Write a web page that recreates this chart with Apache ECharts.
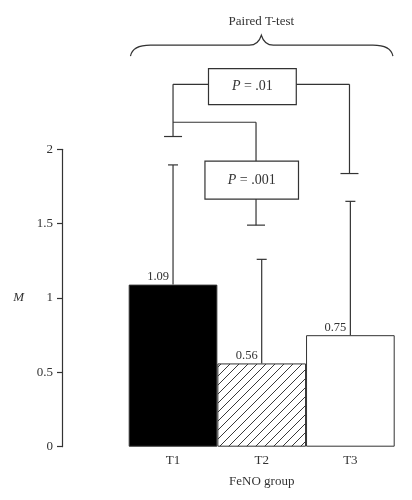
<!DOCTYPE html>
<html><head><meta charset="utf-8">
<script src="https://cdn.jsdelivr.net/npm/echarts@6/dist/echarts.min.js"></script>
<style>html,body{margin:0;padding:0;background:#fff}#c{width:412px;height:500px}</style>
</head><body><div id="c"></div>
<script>
// ---- data ----
const categories = ['T1', 'T2', 'T3'];
const means = [1.09, 0.56, 0.75];
const errorUpper = [1.895, 1.26, 1.65];
const yTicks = [0, 0.5, 1, 1.5, 2];
const pLabels = ['.01', '.001'];
const testTitle = 'Paired T-test';
const xAxisTitle = 'FeNO group';
const yAxisTitle = 'M';

// ---- styles ----
const INK = '#333';
const FONT = '"Liberation Serif", "DejaVu Serif", serif';

function hatch() {
  const s = 9, c = document.createElement('canvas');
  c.width = s; c.height = s;
  const g = c.getContext('2d');
  g.fillStyle = '#fff'; g.fillRect(0, 0, s, s);
  g.strokeStyle = '#222'; g.lineWidth = 0.9;
  g.beginPath();
  g.moveTo(0, s); g.lineTo(s, 0);
  g.moveTo(-s, s); g.lineTo(0, 0);
  g.moveTo(s, 2 * s); g.lineTo(2 * s, s);
  g.stroke();
  return c;
}
const fills = ['#000', { image: hatch(), repeat: 'repeat' }, '#fff'];

const chart = echarts.init(document.getElementById('c'), null, { renderer: 'canvas' });

const barData = means.map((v, i) => ({
  value: v,
  itemStyle: { color: fills[i], borderColor: INK, borderWidth: 1 }
}));
const errData = means.map((v, i) => [i, v, errorUpper[i]]);

function line(a, b, w) {
  return { type: 'line', shape: { x1: a[0], y1: a[1], x2: b[0], y2: b[1] },
    style: { stroke: INK, lineWidth: w || 1.2 } };
}

chart.setOption({
  animation: false,
  grid: { left: 128.7, right: 17.3, top: 149.3, bottom: 53.3 },
  xAxis: {
    type: 'category', data: categories,
    axisLine: { show: false }, axisTick: { show: false },
    axisLabel: { margin: 7, color: INK, fontFamily: FONT, fontSize: 13 },
    name: xAxisTitle, nameLocation: 'middle', nameGap: 28,
    nameTextStyle: { color: INK, fontFamily: FONT, fontSize: 13 }
  },
  yAxis: {
    type: 'value', min: 0, max: 2, interval: 0.5, offset: 66.7,
    splitLine: { show: false },
    axisLine: { show: true, lineStyle: { color: INK, width: 1.2 } },
    axisTick: { show: true, length: 5, lineStyle: { color: INK, width: 1.2 } },
    axisLabel: { margin: 9, color: INK, fontFamily: FONT, fontSize: 13,
      formatter: v => yTicks.indexOf(v) >= 0 ? String(v) : '' },
    name: yAxisTitle, nameLocation: 'middle', nameRotate: 0, nameGap: 38,
    nameTextStyle: { color: INK, fontFamily: FONT, fontSize: 13, fontStyle: 'italic' }
  },
  series: [
    {
      type: 'bar', data: barData, barWidth: '100%', barCategoryGap: 0,
      label: { show: true, position: 'top', align: 'right', offset: [-4, 1], distance: 2,
        color: INK, fontFamily: FONT, fontSize: 12.5, formatter: p => p.value.toFixed(2) },
      z: 2
    },
    {
      type: 'custom', data: errData, clip: false, z: 3,
      renderItem: function (params, api) {
        const x = api.value(0);
        const lo = api.coord([x, api.value(1)]);
        const hi = api.coord([x, api.value(2)]);
        const cw = 5;
        return { type: 'group', children: [
          line(lo, hi),
          line([hi[0] - cw, hi[1]], [hi[0] + cw, hi[1]])
        ] };
      }
    },
    {
      type: 'custom', data: [[0]], clip: false, z: 4,
      renderItem: function (params, api) {
        const base = api.coord([0, 0]);
        const bw = api.size([1, 0])[0];
        const P = (idx, val) => [base[0] + idx * bw, api.coord([0, val])[1]];
        const cap = 9;
        const kids = [];
        // brace
        const L = P(-0.48, 2.626), R = P(2.48, 2.626), C = P(0.996, 2.767);
        const yf = P(0, 2.70)[1];
        const d = 'M' + L[0] + ' ' + L[1] +
          ' Q' + (L[0] + 2) + ' ' + yf + ' ' + (L[0] + 20) + ' ' + yf +
          ' L' + (C[0] - 12) + ' ' + yf +
          ' Q' + (C[0] - 3) + ' ' + yf + ' ' + C[0] + ' ' + C[1] +
          ' Q' + (C[0] + 3) + ' ' + yf + ' ' + (C[0] + 12) + ' ' + yf +
          ' L' + (R[0] - 20) + ' ' + yf +
          ' Q' + (R[0] - 2) + ' ' + yf + ' ' + R[0] + ' ' + R[1];
        kids.push({ type: 'path', shape: { pathData: d }, style: { stroke: INK, fill: null, lineWidth: 1.2 } });
        const tp = P(0.996, 2.856);
        kids.push({ type: 'text', x: tp[0], y: tp[1], style: { text: testTitle, align: 'center', verticalAlign: 'middle',
          fill: INK, font: '13px ' + FONT } });
        // comparison T1 vs T3
        const yTop = 2.437;
        const b1a = P(0.40, 2.543), b1b = P(1.39, 2.301);
        kids.push({ type: 'rect', shape: { x: b1a[0], y: b1a[1], width: b1b[0] - b1a[0], height: b1b[1] - b1a[1] },
          style: { stroke: INK, fill: '#fff', lineWidth: 1.2 } });
        const c1 = P(0.895, (2.543 + 2.301) / 2);
        kids.push({ type: 'text', x: c1[0], y: c1[1], style: { text: '{i|P} = ' + pLabels[0], align: 'center', verticalAlign: 'middle',
          fill: INK, font: '14px ' + FONT, rich: { i: { fontStyle: 'italic', fontFamily: FONT, fontSize: 14, fill: INK } } } });
        const t1Top = P(0, yTop), t1Cap = P(0, 2.086);
        kids.push(line(t1Top, P(0.40, yTop)));
        kids.push(line(t1Top, t1Cap));
        kids.push(line([t1Cap[0] - cap, t1Cap[1]], [t1Cap[0] + cap, t1Cap[1]]));
        const t3Top = P(1.99, yTop), t3Cap = P(1.99, 1.837);
        kids.push(line(P(1.39, yTop), t3Top));
        kids.push(line(t3Top, t3Cap));
        kids.push(line([t3Cap[0] - cap, t3Cap[1]], [t3Cap[0] + cap, t3Cap[1]]));
        // comparison T1 vs T2
        const yMid = 2.182, xb = 0.936;
        kids.push(line(P(0, yMid), P(xb, yMid)));
        kids.push(line(P(xb, yMid), P(xb, 1.92)));
        const b2a = P(0.36, 1.92), b2b = P(1.415, 1.665);
        kids.push({ type: 'rect', shape: { x: b2a[0], y: b2a[1], width: b2b[0] - b2a[0], height: b2b[1] - b2a[1] },
          style: { stroke: INK, fill: '#fff', lineWidth: 1.2 } });
        const c2 = P(0.887, (1.92 + 1.665) / 2);
        kids.push({ type: 'text', x: c2[0], y: c2[1], style: { text: '{i|P} = ' + pLabels[1], align: 'center', verticalAlign: 'middle',
          fill: INK, font: '14px ' + FONT, rich: { i: { fontStyle: 'italic', fontFamily: FONT, fontSize: 14, fill: INK } } } });
        const t2Cap = P(xb, 1.49);
        kids.push(line(P(xb, 1.665), t2Cap));
        kids.push(line([t2Cap[0] - cap, t2Cap[1]], [t2Cap[0] + cap, t2Cap[1]]));
        return { type: 'group', children: kids };
      }
    }
  ]
});
</script>
</body></html>
